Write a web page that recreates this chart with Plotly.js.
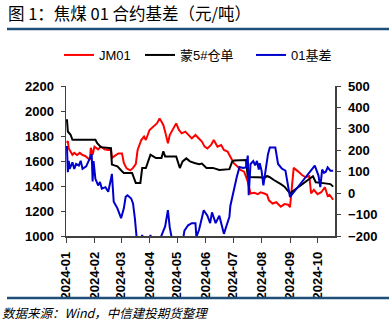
<!DOCTYPE html>
<html><head><meta charset="utf-8">
<script src="https://cdn.plot.ly/plotly-3.0.1.min.js"></script>
<style>html,body{margin:0;padding:0;background:#fff;}#chart{width:389px;height:325px;}</style>
</head><body><div id="chart"></div>
<script>
const jmDates = ['2024-01-02','2024-01-03','2024-01-04','2024-01-06','2024-01-08','2024-01-10','2024-01-13','2024-01-16','2024-01-19','2024-01-22','2024-01-25','2024-01-27','2024-01-28','2024-01-30','2024-02-01','2024-02-05','2024-02-08','2024-02-12','2024-02-16','2024-02-19','2024-02-20','2024-02-24','2024-02-27','2024-03-02','2024-03-04','2024-03-07','2024-03-11','2024-03-14','2024-03-17','2024-03-19','2024-03-23','2024-03-26','2024-03-28','2024-04-01','2024-04-05','2024-04-09','2024-04-12','2024-04-16','2024-04-18','2024-04-21','2024-04-23','2024-04-27','2024-04-30','2024-05-03','2024-05-06','2024-05-10','2024-05-14','2024-05-17','2024-05-21','2024-05-25','2024-05-28','2024-05-31','2024-06-03','2024-06-07','2024-06-10','2024-06-14','2024-06-18','2024-06-21','2024-06-25','2024-06-28','2024-07-02','2024-07-06','2024-07-09','2024-07-13','2024-07-17','2024-07-20','2024-07-24','2024-07-28','2024-07-31','2024-08-04','2024-08-07','2024-08-09','2024-08-13','2024-08-17','2024-08-22','2024-08-26','2024-08-30','2024-09-01','2024-09-03','2024-09-05','2024-09-10','2024-09-14','2024-09-18','2024-09-22','2024-09-24','2024-09-27','2024-10-01','2024-10-05','2024-10-09','2024-10-12','2024-10-14','2024-10-16','2024-10-18'];
const jmValues = [1745,1760,1700,1675,1650,1665,1648,1665,1648,1640,1620,1608,1705,1650,1715,1693,1715,1693,1688,1690,1625,1650,1661,1661,1585,1541,1525,1545,1575,1688,1768,1795,1768,1848,1875,1901,1941,1888,1835,1741,1808,1861,1901,1848,1821,1835,1808,1781,1808,1781,1755,1715,1701,1728,1768,1714,1728,1688,1675,1634,1581,1555,1528,1515,1434,1340,1345,1335,1350,1340,1330,1285,1260,1270,1235,1255,1250,1230,1420,1545,1515,1488,1470,1480,1340,1370,1335,1350,1390,1320,1330,1305,1290];

const whDates = ['2024-01-02','2024-01-03','2024-01-06','2024-01-08','2024-02-02','2024-02-04','2024-02-08','2024-02-19','2024-02-20','2024-02-26','2024-03-02','2024-03-04','2024-03-13','2024-03-17','2024-03-22','2024-03-24','2024-03-28','2024-03-30','2024-04-02','2024-04-05','2024-04-08','2024-04-14','2024-04-16','2024-04-18','2024-04-30','2024-05-04','2024-05-07','2024-05-11','2024-05-15','2024-05-20','2024-05-25','2024-05-28','2024-06-02','2024-06-09','2024-06-16','2024-06-27','2024-06-30','2024-07-02','2024-07-15','2024-07-17','2024-08-05','2024-08-07','2024-08-10','2024-08-14','2024-08-18','2024-08-22','2024-08-26','2024-08-29','2024-09-01','2024-09-26','2024-09-29','2024-10-05','2024-10-11','2024-10-15','2024-10-18'];
const whValues = [1934,1836,1810,1770,1770,1743,1711,1703,1571,1557,1518,1504,1504,1425,1425,1544,1544,1584,1650,1637,1624,1624,1677,1637,1637,1544,1597,1621,1597,1584,1575,1580,1545,1545,1528,1535,1595,1605,1608,1472,1468,1480,1470,1450,1435,1415,1395,1365,1341,1478,1430,1425,1420,1415,1395];

const basisDates = ['2024-01-02','2024-01-03','2024-01-04','2024-01-05','2024-01-08','2024-01-10','2024-01-12','2024-01-15','2024-01-17','2024-01-19','2024-01-23','2024-01-25','2024-01-29','2024-01-30','2024-01-31','2024-02-02','2024-02-05','2024-02-07','2024-02-09','2024-02-13','2024-02-16','2024-02-19','2024-02-20','2024-02-22','2024-02-26','2024-03-01','2024-03-04','2024-03-06','2024-03-08','2024-03-12','2024-03-14','2024-03-16','2024-03-18','2024-03-21','2024-03-24','2024-03-26','2024-04-01','2024-04-02','2024-04-04','2024-04-11','2024-04-15','2024-04-18','2024-04-21','2024-04-23','2024-04-25','2024-04-29','2024-05-07','2024-05-09','2024-05-13','2024-05-17','2024-05-21','2024-05-22','2024-05-25','2024-05-28','2024-05-30','2024-06-03','2024-06-06','2024-06-08','2024-06-12','2024-06-16','2024-06-19','2024-06-21','2024-06-24','2024-06-27','2024-06-28','2024-07-02','2024-07-05','2024-07-08','2024-07-12','2024-07-15','2024-07-17','2024-07-18','2024-07-20','2024-07-23','2024-07-25','2024-07-27','2024-07-29','2024-07-30','2024-08-01','2024-08-03','2024-08-05','2024-08-08','2024-08-10','2024-08-16','2024-08-19','2024-08-23','2024-08-27','2024-08-29','2024-09-01','2024-09-28','2024-10-02','2024-10-04','2024-10-06','2024-10-08','2024-10-10','2024-10-12','2024-10-15','2024-10-18'];
const basisValues = [220,98,151,113,144,113,136,129,151,113,125,144,182,55,150,67,36,52,21,28,6,67,90,-40,-71,-117,-71,-17,-10,-25,-48,-117,-210,-240,-195,-240,-240,-195,-240,-230,-185,-155,-79,-160,-205,-240,-230,-175,-150,-140,-140,-205,-170,-110,-80,-105,-140,-90,-140,-105,-150,-190,-150,-110,-60,25,75,122,118,120,175,-10,136,150,130,150,110,140,105,36,104,182,213,213,136,115,105,60,-18,128,82,28,110,95,100,120,105,105];

const seriesNames = ['JM01','蒙5#仓单','01基差'];
const leftTicks = [1000,1200,1400,1600,1800,2000,2200];
const rightTicks = [-200,-100,0,100,200,300,400,500];

const tickFont = {family:'Liberation Sans, Arial, sans-serif', size:13, color:'#000', weight:'bold'};
const legendFont = {family:'Liberation Sans, Noto Sans CJK SC, sans-serif', size:13, color:'#000'};
const axisColor = '#404040';

const traces = [
  {x: jmDates, y: jmValues, name: seriesNames[0], type:'scatter', mode:'lines', line:{color:'#FF0000', width:2}, yaxis:'y', legend:'legend'},
  {x: whDates, y: whValues, name: seriesNames[1], type:'scatter', mode:'lines', line:{color:'#000000', width:2}, yaxis:'y', legend:'legend2'},
  {x: basisDates, y: basisValues, name: seriesNames[2], type:'scatter', mode:'lines', line:{color:'#0000CC', width:2}, yaxis:'y2', legend:'legend3'}
];

function legendAt(px){
  return {orientation:'h', x:(px-8-66)/269, xanchor:'left', y:(236-55)/150, yanchor:'middle',
    font:legendFont, bgcolor:'rgba(0,0,0,0)', itemwidth:30};
}

const layout = {
  width:389, height:325,
  margin:{l:66, r:54, t:86, b:89, pad:0},
  paper_bgcolor:'#fff', plot_bgcolor:'#fff',
  showlegend:true,
  legend:legendAt(67), legend2:legendAt(148), legend3:legendAt(259),
  title:{text:'图 1：焦煤 01 合约基差（元/吨）', x:8/389, xanchor:'left', xref:'container', y:1-14/325, yanchor:'middle', yref:'container',
    font:{family:'Noto Sans CJK SC, sans-serif', size:16.5, color:'#000'}},
  xaxis:{type:'date', range:['2024-01-01','2024-10-20'], tick0:'2024-01-01', dtick:'M1', tickformat:'%Y-%m',
    tickangle:-90, ticks:'outside', ticklen:5, tickcolor:axisColor, tickwidth:1, ticklabelstandoff:4,
    showline:true, linecolor:axisColor, linewidth:1.5, showgrid:false, zeroline:false,
    tickfont:tickFont, fixedrange:true},
  yaxis:{range:[1000,2200], tickvals:leftTicks, ticks:'outside', ticklen:4, tickcolor:axisColor, ticklabelstandoff:4,
    showline:true, linecolor:axisColor, linewidth:1.5, showgrid:false, zeroline:false, tickfont:tickFont},
  yaxis2:{range:[-200,500], tickvals:rightTicks, overlaying:'y', side:'right', ticks:'outside', ticklen:4, tickcolor:axisColor, ticklabelstandoff:5,
    showline:true, linecolor:axisColor, linewidth:1.5, showgrid:false, zeroline:false, tickfont:tickFont},
  shapes:[
    {type:'line', xref:'paper', yref:'paper', x0:(7-66)/269, x1:(389-66)/269, y0:(236-29)/150, y1:(236-29)/150, line:{color:'#1F4E79', width:2.5}},
    {type:'line', xref:'paper', yref:'paper', x0:(7-66)/269, x1:(389-66)/269, y0:(236-298)/150, y1:(236-298)/150, line:{color:'#1F4E79', width:2.5}}
  ],
  annotations:[
    {text:'数据来源：Wind，中信建投期货整理', xref:'paper', yref:'paper', x:(0-66)/269, xanchor:'left', y:(236-312)/150, yanchor:'middle', showarrow:false,
     font:{family:'Noto Sans CJK SC, sans-serif', size:12.5, color:'#000', style:'italic'}}
  ]
};

Plotly.newPlot('chart', traces, layout, {staticPlot:true, displayModeBar:false});
</script>
</body></html>
